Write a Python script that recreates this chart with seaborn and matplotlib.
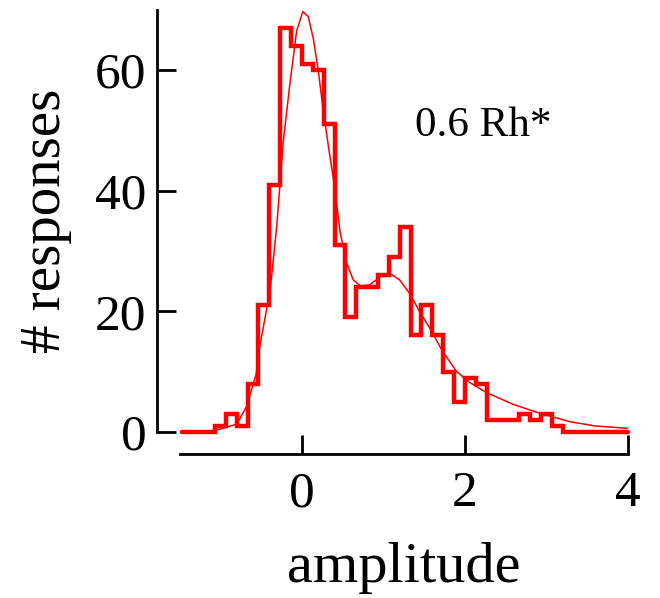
import numpy as np
import pandas as pd
import seaborn as sns
import matplotlib.pyplot as plt

# histogram counts, bins of width 2/15 starting at -1.467
bin_start = -11 * 2 / 15
bin_width = 2 / 15
counts = [0, 0, 0, 1, 3, 1, 8, 21, 41, 67, 64, 61, 60, 51, 31, 19, 24, 24,
          26, 29, 34, 16, 21, 16, 10, 5, 9, 8, 2, 2, 2, 3, 2, 3, 1,
          0, 0, 0, 0, 0, 0]

# fitted curve
fit_x = [-1.5, -1.1, -0.8, -0.68, -0.56, -0.52, -0.39, -0.31, -0.23, -0.15,
         -0.065, 0.01, 0.077, 0.14, 0.2, 0.26, 0.34, 0.4, 0.47, 0.55, 0.63,
         0.72, 0.83, 0.98, 1.1, 1.2, 1.33, 1.45, 1.57, 1.72, 1.9, 2.06, 2.27,
         2.59, 2.92, 3.29, 3.6, 4.0]
fit_y = [0.0, 0.1, 1.3, 4.2, 9.7, 14.0, 23.5, 34.0, 48.0, 57.5,
         66.5, 69.7, 68.9, 65.2, 60.0, 53.4, 46.0, 40.7, 33.0, 28.0, 25.2,
         24.2, 24.4, 25.9, 26.1, 25.2, 22.8, 19.8, 17.2, 13.5, 10.0, 8.2, 6.5,
         4.6, 3.1, 1.7, 1.0, 0.6]

x_ticks = [0, 2, 4]
y_ticks = [0, 20, 40, 60]
label_text = "0.6 Rh*"

sns.set_style("ticks")
plt.rcParams["font.family"] = ["Liberation Serif", "DejaVu Serif"]
plt.rcParams["text.color"] = "black"
plt.rcParams["axes.labelcolor"] = "black"
plt.rcParams["xtick.color"] = "black"
plt.rcParams["ytick.color"] = "black"

edges = [bin_start + bin_width * i for i in range(len(counts) + 1)]
centers = [(a + b) / 2 for a, b in zip(edges[:-1], edges[1:])]
df = pd.DataFrame({"amplitude": centers, "count": counts})

fig = plt.figure(figsize=(6.6, 5.98), dpi=100)
ax = fig.add_axes([0.2723, 0.2776, 0.679, 0.706])

sns.histplot(data=df, x="amplitude", weights="count", bins=edges,
             element="step", fill=False, color="#ff0000", linewidth=3.2,
             ax=ax)
for ln in ax.lines:
    ln.set_clip_on(False)
    ln.set_solid_joinstyle("miter")

sns.lineplot(x=fit_x, y=fit_y, color="#ff0000", linewidth=1.1, ax=ax)

ax.set_xlim(-1.5, 4.0)
ax.set_ylim(0, 70)
ax.set_xticks(x_ticks)
ax.set_yticks(y_ticks)

for side in ["top", "right"]:
    ax.spines[side].set_visible(False)
ax.spines["left"].set_position(("outward", 16))
ax.spines["bottom"].set_position(("outward", 16))
for side in ["left", "bottom"]:
    ax.spines[side].set_linewidth(2.0)
    ax.spines[side].set_color("black")

ax.tick_params(axis="both", direction="in", length=14, width=2.0,
               color="black", labelcolor="black", labelsize=37)
ax.tick_params(axis="x", pad=12)
ax.tick_params(axis="y", pad=8)

ax.set_xlabel("amplitude", fontsize=42, color="black")
ax.set_ylabel("# responses", fontsize=41, color="black")
ax.xaxis.set_label_coords(0.5, -0.26)
ax.yaxis.set_label_coords(-0.24, 0.5)

ax.text(1.39, 49, label_text, fontsize=31, color="black",
        ha="left", va="baseline")

fig.savefig("out.png", dpi=100)
